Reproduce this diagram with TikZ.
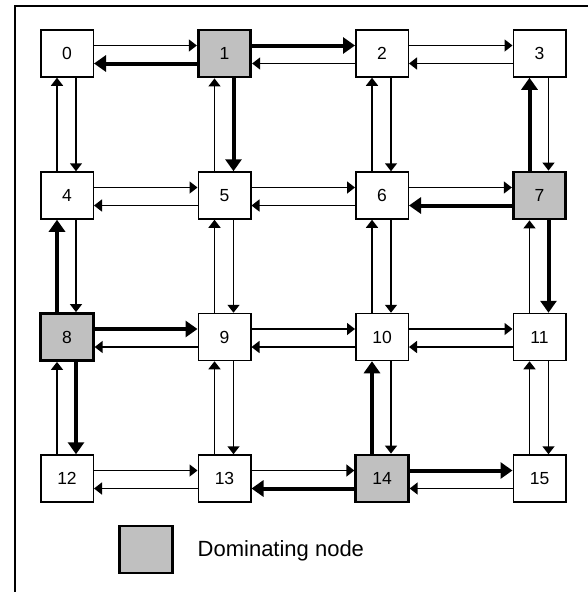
\documentclass[tikz,border=0pt]{standalone}
\usepackage{fontspec}
\setmainfont{Liberation Sans}
\usetikzlibrary{arrows.meta}
\definecolor{domgray}{RGB}{192,192,192}
\tikzset{
  nodebox/.style={draw, line width=1.5pt, minimum width=52.5pt, minimum height=47pt, inner sep=0pt, font=\fontsize{17.5}{20}\selectfont},
  dombox/.style={nodebox, fill=domgray, line width=2.8pt},
  thin/.style={line width=1.5pt, -{Triangle[length=8pt,width=12pt]}},
  thick/.style={line width=4pt, -{Triangle[length=12pt,width=16pt]}},
  frameline/.style={line width=1.7pt}
}
\begin{document}
\begin{tikzpicture}[x=1pt,y=-1pt]
\useasboundingbox (0,0) rectangle (588,592);
\draw[frameline] (15,592) -- (15,6) -- (588,6);
% nodes
\foreach \i/\x/\y/\st in {
  0/67/53.5/nodebox, 1/224.5/53.5/dombox, 2/382/53.5/nodebox, 3/539.5/53.5/nodebox,
  4/67/195.5/nodebox, 5/224.5/195.5/nodebox, 6/382/195.5/nodebox, 7/539.5/195.5/dombox,
  8/67/337/dombox, 9/224.5/337/nodebox, 10/382/337/nodebox, 11/539.5/337/nodebox,
  12/67/478.5/nodebox, 13/224.5/478.5/nodebox, 14/382/478.5/dombox, 15/539.5/478.5/nodebox}
  \node[\st] (n\i) at (\x,\y) {\i};
% right arrows (upper)
\foreach \a/\b/\s in {0/1/thin, 1/2/thick, 2/3/thin, 4/5/thin, 5/6/thin, 6/7/thin,
  8/9/thick, 9/10/thin, 10/11/thin, 12/13/thin, 13/14/thin, 14/15/thick}
  \draw[\s] ([yshift=8pt]n\a.east) -- ([yshift=8pt]n\b.west);
% left arrows (lower)
\foreach \a/\b/\s in {1/0/thick, 2/1/thin, 3/2/thin, 5/4/thin, 6/5/thin, 7/6/thick,
  9/8/thin, 10/9/thin, 11/10/thin, 13/12/thin, 14/13/thick, 15/14/thin}
  \draw[\s] ([yshift=-10pt]n\a.west) -- ([yshift=-10pt]n\b.east);
% down arrows (right line)
\foreach \a/\b/\s in {0/4/thin, 1/5/thick, 2/6/thin, 3/7/thin, 4/8/thin, 5/9/thin,
  6/10/thin, 7/11/thick, 8/12/thick, 9/13/thin, 10/14/thin, 11/15/thin}
  \draw[\s] ([xshift=9pt]n\a.south) -- ([xshift=9pt]n\b.north);
% up arrows (left line)
\foreach \a/\b/\s in {4/0/thin, 5/1/thin, 6/2/thin, 7/3/thick, 8/4/thick, 9/5/thin,
  10/6/thin, 11/7/thin, 12/8/thin, 13/9/thin, 14/10/thick, 15/11/thin}
  \draw[\s] ([xshift=-10pt]n\a.north) -- ([xshift=-10pt]n\b.south);
% legend
\node[dombox] (legbox) at (146,549.5) {};
\node[anchor=base west, inner sep=0pt, font=\fontsize{22}{26}\selectfont] (legtext) at (197.5,556.7) {Dominating node};
\end{tikzpicture}
\end{document}
